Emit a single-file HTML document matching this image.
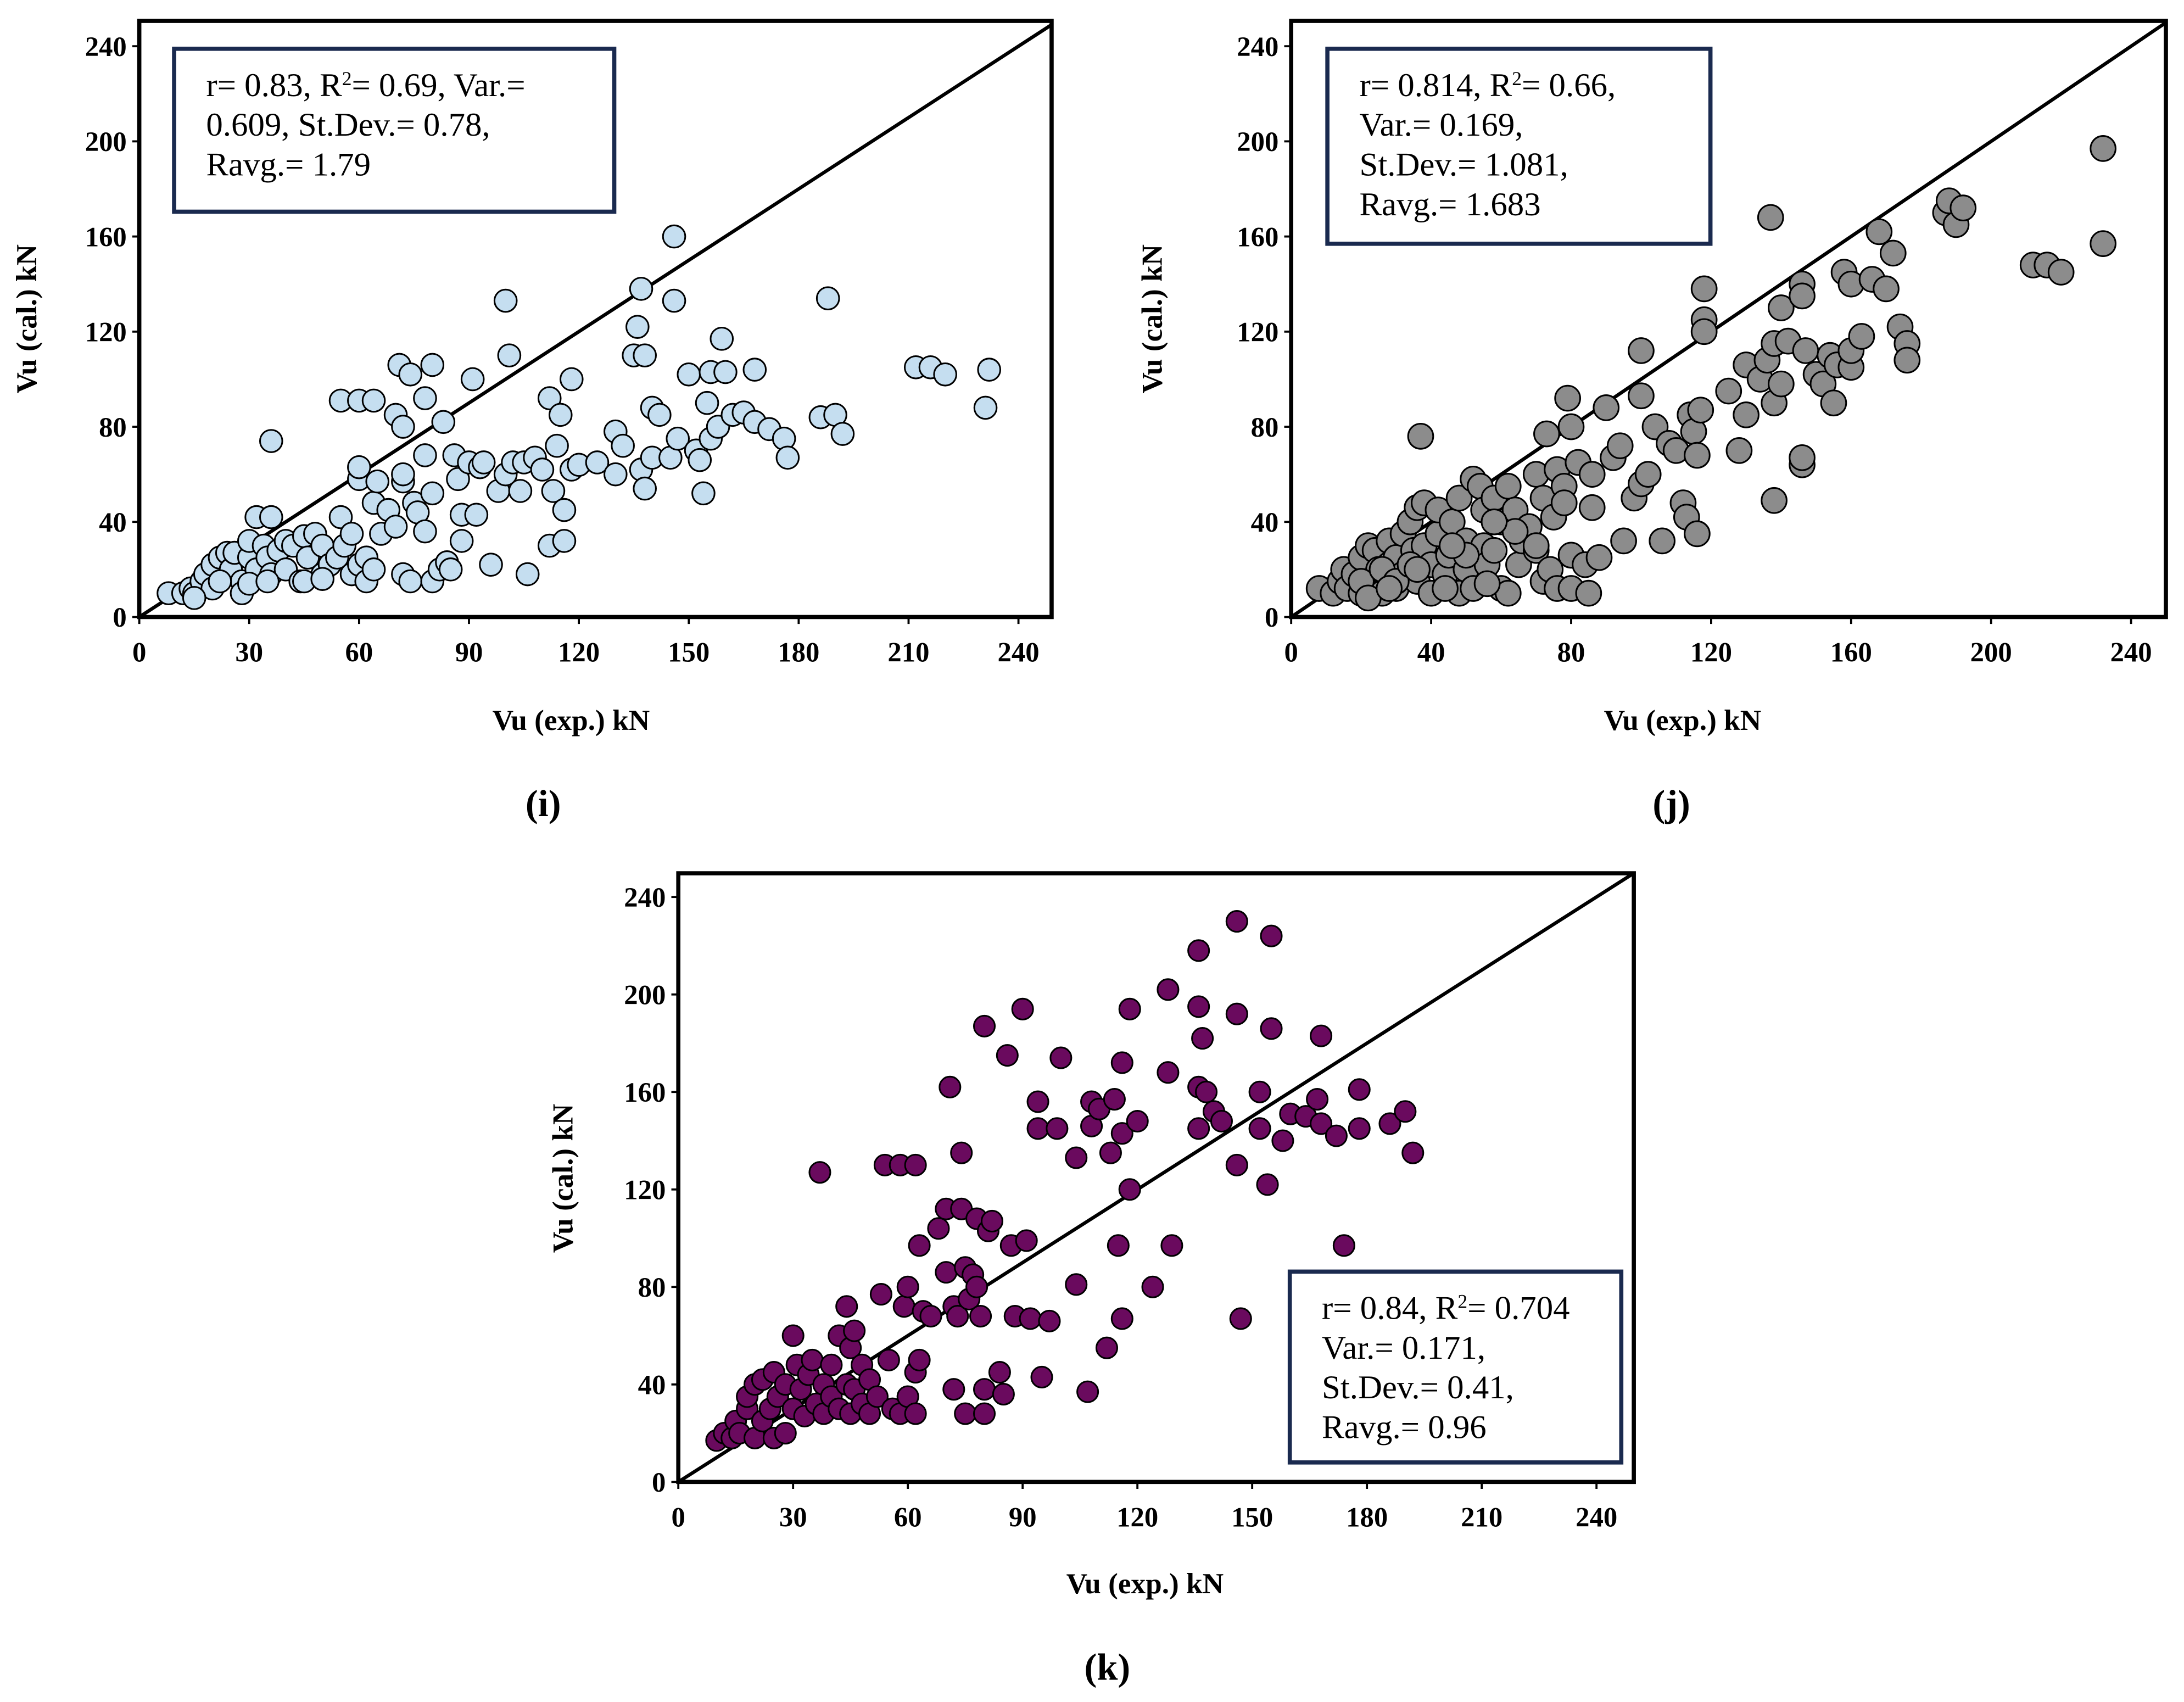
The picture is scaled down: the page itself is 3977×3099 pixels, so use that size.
<!DOCTYPE html>
<html><head><meta charset="utf-8"><style>
html,body{margin:0;padding:0;background:#fff;}
svg{display:block;}
text{font-family:"Liberation Serif",serif;fill:#000;}
.tick{font-size:20px;font-weight:bold;}
.title{font-size:21px;font-weight:bold;}
.stat{font-size:24px;}
.cap{font-size:27px;font-weight:bold;}
</style></head><body>
<svg id="fig" width="3977" height="3099" viewBox="0 0 1568 1222" preserveAspectRatio="none" xmlns="http://www.w3.org/2000/svg"></svg>
<script>
// ---- Chart data (Vu exp, Vu cal in kN) ----
const iExp=[8,12,14,15,17,18,20,20,22,24,25,26,28,28,30,30,32,32,34,35,36,36,38,40,40,42,44,45,46,48,50,50,52,54,55,56,58,58,60,60,60,62,62,64,64,65,66,68,70,70,71,72,72,72,74,74,75,76,78,78,78,80,80,80,82,83,84,85,86,87,88,88,90,91,92,93,94,96,98,100,100,101,102,104,105,106,108,110,112,112,113,114,115,116,116,118,118,120,125,130,130,132,135,136,137,137,138,138,140,140,142,145,146,146,147,150,152,153,154,155,156,156,158,159,160,162,165,168,168,172,176,177,186,188,190,192,212,216,220,232,231,36,55,60,64,30,35,22,15,45,50,72];
const iCal=[10,10,12,10,15,18,22,12,25,27,20,27,15,10,25,32,20,42,30,25,42,18,28,20,32,30,15,34,25,35,30,18,22,25,42,30,18,35,22,58,63,15,25,20,48,57,35,45,38,85,106,18,80,57,102,15,48,44,68,92,36,106,15,52,20,82,23,20,68,58,32,43,65,100,43,63,65,22,53,60,133,110,65,53,65,18,67,62,30,92,53,72,85,45,32,62,100,64,65,60,78,72,110,122,62,138,54,110,88,67,85,67,160,133,75,102,70,66,52,90,103,75,80,117,103,85,86,104,82,79,75,67,84,134,85,77,105,105,102,104,88,74,91,91,91,14,15,15,8,15,16,60];
const jExp=[8,12,14,15,16,18,20,20,22,24,24,25,26,28,28,30,30,32,32,34,35,36,36,37,38,38,40,40,42,42,44,45,46,48,48,50,50,52,52,54,55,55,56,58,58,60,60,62,62,64,65,66,68,70,70,72,72,73,74,75,76,76,78,78,79,80,80,80,82,84,85,86,86,88,90,92,94,95,98,100,100,100,102,104,106,108,110,112,113,114,115,116,116,117,118,118,118,125,128,130,130,134,136,137,138,138,138,140,140,142,146,146,146,146,147,150,152,154,155,156,158,160,160,160,163,166,168,170,172,174,176,176,187,188,190,192,212,216,220,232,232,20,26,30,34,44,50,56,64,70,22,28,36,46,58];
const jCal=[12,10,15,20,12,18,10,25,30,14,28,20,10,22,32,12,25,35,18,40,28,15,46,76,48,30,22,10,35,45,18,26,40,50,10,20,32,58,12,55,30,45,22,28,50,12,40,10,55,45,22,32,38,28,60,15,50,77,20,42,12,62,55,48,92,26,80,12,65,22,10,60,46,25,88,67,72,32,50,56,112,93,60,80,32,73,70,48,42,85,78,68,35,87,138,125,120,95,70,106,85,100,108,168,90,49,115,98,130,116,140,135,64,67,112,102,98,110,90,106,145,140,105,112,118,142,162,138,153,122,115,108,170,175,165,172,148,148,145,197,157,15,20,15,22,12,26,14,36,30,8,12,20,30,40];
const kExp=[10,12,14,15,16,18,18,20,20,22,22,24,25,25,26,28,28,30,30,31,32,33,34,35,36,37,38,38,40,40,42,42,44,44,45,45,46,46,48,48,50,50,52,53,54,55,56,58,58,59,60,60,62,62,62,63,63,64,66,68,70,70,71,72,72,73,74,74,75,75,76,77,78,78,79,80,80,80,81,82,84,85,86,87,88,90,91,92,94,94,95,97,99,100,104,104,107,108,108,110,112,113,114,115,116,116,116,118,118,120,124,128,128,129,136,136,136,136,137,138,140,142,146,146,146,147,152,152,154,155,155,158,160,164,167,168,168,172,174,178,178,186,190,192];
const kCal=[17,20,18,25,20,30,35,18,40,25,42,30,45,18,35,20,40,30,60,48,38,27,44,50,32,127,40,28,35,48,60,30,72,40,28,55,62,38,48,32,28,42,35,77,130,50,30,130,28,72,80,35,130,28,45,97,50,70,68,104,112,86,162,72,38,68,135,112,88,28,75,85,108,80,68,187,28,38,103,107,45,36,175,97,68,194,99,67,145,156,43,66,145,174,81,133,37,156,146,153,55,135,157,97,172,143,67,120,194,148,80,202,168,97,218,195,162,145,182,160,152,148,230,130,192,67,160,145,122,224,186,140,151,150,157,183,147,142,97,161,145,147,152,135];
const iTicksX=[0,30,60,90,120,150,180,210,240];
const jTicksX=[0,40,80,120,160,200,240];
const kTicksX=[0,30,60,90,120,150,180,210,240];
const yTicks=[0,40,80,120,160,200,240];

const NS="http://www.w3.org/2000/svg";
const svg=document.getElementById('fig');
function mk(tag,attrs,parent){const e=document.createElementNS(NS,tag);for(const k in attrs)e.setAttribute(k,attrs[k]);(parent||svg).appendChild(e);return e;}

function chart(id,cfg,xs,ys,xt){
  const g=mk('g',{});
  
  
  const X=v=>cfg.x0+v*cfg.sx, Y=v=>cfg.y0-v*cfg.sy;
  const xmax=(cfg.right-cfg.x0)/cfg.sx, ymax=(cfg.y0-cfg.top)/cfg.sy;
  const m=Math.min(xmax,ymax);
  const diag=mk('line',{x1:X(0),y1:Y(0),x2:X(m),y2:Y(m),stroke:'#000','stroke-width':2.5},g);
  
  
  for(let i=0;i<xs.length;i++){
    const c=mk('circle',{cx:X(xs[i]),cy:Y(ys[i]),r:cfg.r,fill:cfg.color,stroke:'#000','stroke-width':1.2},g);
    
    
  }
  const fr=mk('rect',{x:cfg.x0,y:cfg.top,width:cfg.right-cfg.x0,height:cfg.y0-cfg.top,fill:'none',stroke:'#000','stroke-width':3},g);
  
  
  xt.forEach(v=>{
    mk('line',{x1:X(v),y1:cfg.y0,x2:X(v),y2:cfg.y0+5,stroke:'#000','stroke-width':1.5},g);
    const t=mk('text',{x:X(v),y:cfg.y0+32,'text-anchor':'middle',class:'tick'},g);t.textContent=v;
    
    
  });
  yTicks.forEach(v=>{
    mk('line',{x1:cfg.x0-5,y1:Y(v),x2:cfg.x0,y2:Y(v),stroke:'#000','stroke-width':1.5},g);
    const t=mk('text',{x:cfg.x0-9,y:Y(v)+7,'text-anchor':'end',class:'tick'},g);t.textContent=v;
    
    
  });
  const xtit=mk('text',{x:cfg.xtx,y:cfg.xty,'text-anchor':'middle',class:'title'},g);xtit.textContent='Vu (exp.) kN';
  
  
  const ytit=mk('text',{x:0,y:0,'text-anchor':'middle',class:'title',transform:`translate(${cfg.ytx},${cfg.yty}) rotate(-90)`},g);ytit.textContent='Vu (cal.) kN';
  
  
  const sb=mk('rect',{x:cfg.bx,y:cfg.by,width:cfg.bw,height:cfg.bh,fill:'#fff',stroke:'#1a2a4f','stroke-width':3},g);
  
  
  cfg.lines.forEach((L,i)=>{
    const t=mk('text',{x:cfg.bx+23,y:cfg.by+34+i*28.5,class:'stat'},g);t.innerHTML=L;
    
    
  });
  const cap=mk('text',{x:cfg.capx,y:cfg.capy,'text-anchor':'middle',class:'cap'},g);cap.textContent=cfg.cap;
  
  
}

chart('i',{x0:100,y0:443,sx:78.9/30,sy:68.3/40,right:755,top:15,r:8,color:'#c5def0',
  xtx:410,xty:524,ytx:26,yty:229,bx:125,by:35,bw:316,bh:117,capx:390,capy:586,cap:'(i)',
  lines:['r= 0.83, R<tspan baseline-shift="super" font-size="14">2</tspan>=  0.69, Var.=','0.609, St.Dev.= 0.78,','Ravg.= 1.79']},iExp,iCal,iTicksX);
chart('j',{x0:927,y0:443,sx:100.5/40,sy:68.3/40,right:1555,top:15,r:9,color:'#8c8c8c',
  xtx:1208,xty:524,ytx:834,yty:229,bx:953,by:35,bw:275,bh:140,capx:1200,capy:586,cap:'(j)',
  lines:['r= 0.814, R<tspan baseline-shift="super" font-size="14">2</tspan>= 0.66,','Var.= 0.169,','St.Dev.= 1.081,','Ravg.= 1.683']},jExp,jCal,jTicksX);
chart('k',{x0:487,y0:1064,sx:82.4/30,sy:70/40,right:1173,top:627,r:7.5,color:'#6a0a5e',
  xtx:822,xty:1144,ytx:411,yty:846,bx:926,by:913,bw:238,bh:137,capx:795,capy:1206,cap:'(k)',
  lines:['r= 0.84, R<tspan baseline-shift="super" font-size="14">2</tspan>= 0.704','Var.= 0.171,','St.Dev.= 0.41,','Ravg.= 0.96']},kExp,kCal,kTicksX);
</script>
</body></html>
